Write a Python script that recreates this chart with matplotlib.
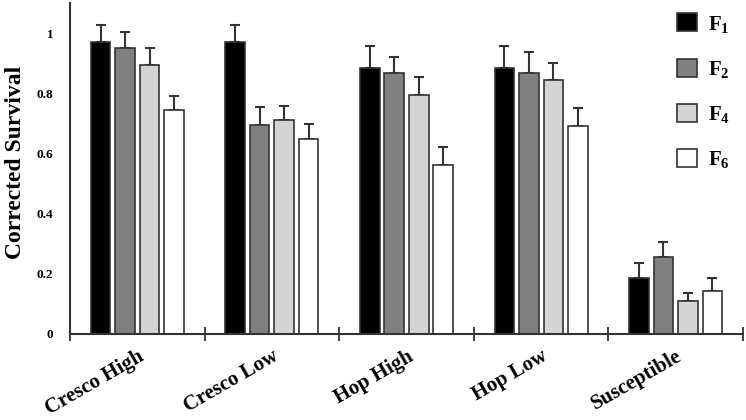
import numpy as np
import matplotlib
matplotlib.use("Agg")
import matplotlib.pyplot as plt
from matplotlib.patches import Patch

plt.rcParams['font.family'] = ['Liberation Serif', 'DejaVu Serif']
plt.rcParams['font.weight'] = 'bold'
plt.rcParams['mathtext.fontset'] = 'custom'
plt.rcParams['mathtext.bf'] = 'Liberation Serif:bold'
plt.rcParams['mathtext.rm'] = 'Liberation Serif:bold'

groups = ["Cresco High", "Cresco Low", "Hop High", "Hop Low", "Susceptible"]
series = ["F1", "F2", "F4", "F6"]
legend_labels = [r"$\mathbf{F_1}$", r"$\mathbf{F_2}$", r"$\mathbf{F_4}$", r"$\mathbf{F_6}$"]

f1 = [0.969, 0.969, 0.884, 0.884, 0.187]
f2 = [0.951, 0.694, 0.869, 0.869, 0.255]
f4 = [0.894, 0.712, 0.793, 0.843, 0.111]
f6 = [0.743, 0.649, 0.560, 0.691, 0.144]

f1_err = [0.059, 0.059, 0.072, 0.072, 0.050]
f2_err = [0.053, 0.059, 0.050, 0.068, 0.050]
f4_err = [0.055, 0.045, 0.061, 0.058, 0.025]
f6_err = [0.048, 0.048, 0.061, 0.061, 0.043]

values = [f1, f2, f4, f6]
errors = [f1_err, f2_err, f4_err, f6_err]
colors = ["#000000", "#808080", "#d4d4d4", "#ffffff"]
edge = "#333333"

fig = plt.figure(figsize=(7.46, 4.2), dpi=100)
ax = fig.add_axes([70 / 746, 86 / 420, 673 / 746, 331 / 420])

x = np.arange(len(groups)) + 0.5
pitch = 0.182
width = 0.145
for i in range(len(series)):
    pos = x + (i - 1.5) * pitch
    ax.bar(pos, values[i], width, color=colors[i], edgecolor=edge, linewidth=1.2, zorder=2)
    ax.errorbar(pos, values[i], yerr=[np.zeros(len(groups)), errors[i]], fmt='none',
                ecolor=edge, elinewidth=1.5, capsize=3.5, capthick=1.5, zorder=1)

ax.set_xlim(0, len(groups))
ax.set_ylim(0, 1.10)

ax.set_yticks([0, 0.2, 0.4, 0.6, 0.8, 1.0])
ax.set_yticklabels(["0", "0.2", "0.4", "0.6", "0.8", "1"], fontsize=9.5, fontweight='bold')
ax.tick_params(axis='y', length=0, pad=12)

ax.set_xticks(np.arange(len(groups) + 1))
ax.set_xticklabels([])
ax.tick_params(axis='x', direction='inout', length=10, width=1.3, color=edge)
ax.set_xticks(x, minor=True)
ax.set_xticklabels(groups, minor=True, rotation=30, ha='right', rotation_mode='anchor',
                   fontsize=15, fontweight='bold')
ax.tick_params(axis='x', which='minor', length=0, pad=9)

for s in ['top', 'right']:
    ax.spines[s].set_visible(False)
for s in ['left', 'bottom']:
    ax.spines[s].set_color(edge)
    ax.spines[s].set_linewidth(1.5)

ax.set_ylabel("Corrected Survival", fontsize=17, fontweight='bold')
ax.yaxis.label.set_va('center')
ax.yaxis.set_label_coords((16 - 70) / 673, 0.52)

handles = [Patch(facecolor=colors[i], edgecolor=edge, linewidth=1.2) for i in range(len(series))]
ax.legend(handles, legend_labels, loc='upper right', bbox_to_anchor=(1.008, 1.025), frameon=False,
          fontsize=15, handlelength=0.95, handleheight=0.95, labelspacing=1.15, handletextpad=0.5)

fig.savefig("out.png", dpi=100)
